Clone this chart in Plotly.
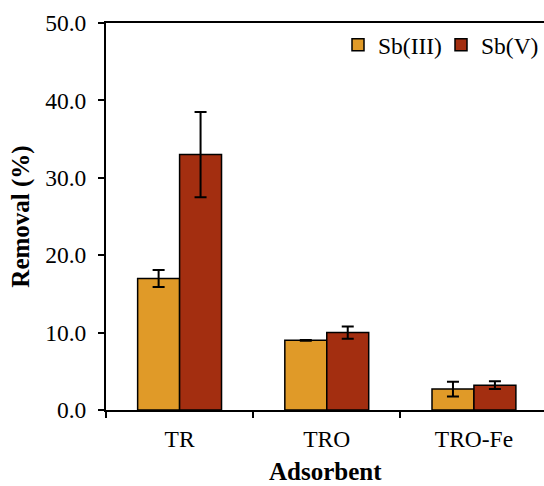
import plotly.graph_objects as go

adsorbents = ["TR", "TRO", "TRO-Fe"]
sb3_removal = [17.0, 9.0, 2.7]
sb3_error = [1.1, 0.05, 0.95]
sb5_removal = [33.0, 10.0, 3.2]
sb5_error = [5.5, 0.8, 0.5]
y_ticks = [0, 10, 20, 30, 40, 50]

FONT = "Liberation Serif, Times New Roman, serif"
TICK_SIZE = 23.5
TITLE_SIZE = 25

fig = go.Figure()
fig.add_trace(go.Bar(
    name="Sb(III)", x=adsorbents, y=sb3_removal,
    marker=dict(color="#E09A28", line=dict(color="black", width=1.5)),
    error_y=dict(type="data", array=sb3_error, visible=True,
                 color="black", thickness=2, width=6),
))
fig.add_trace(go.Bar(
    name="Sb(V)", x=adsorbents, y=sb5_removal,
    marker=dict(color="#A32E10", line=dict(color="black", width=1.5)),
    error_y=dict(type="data", array=sb5_error, visible=True,
                 color="black", thickness=2, width=6),
))

fig.update_layout(
    width=544, height=486,
    margin=dict(l=106, r=0, t=23, b=76),
    plot_bgcolor="white", paper_bgcolor="white",
    barmode="group", bargap=0.43, bargroupgap=0,
    font=dict(family=FONT, size=TICK_SIZE, color="black"),
    legend=dict(orientation="h", x=1.0, y=1.0, xanchor="right", yanchor="top",
                font=dict(family=FONT, size=TICK_SIZE), bgcolor="rgba(0,0,0,0)",
                itemwidth=30, entrywidth=58, tracegroupgap=0),
    showlegend=True,
)
# x-axis title placed as an annotation so it can sit at the bottom edge
fig.add_annotation(
    text="<b>Adsorbent</b>", xref="paper", yref="paper",
    x=0.5, y=-0.1964, xanchor="center", yanchor="bottom",
    showarrow=False, borderpad=0,
    font=dict(family=FONT, size=TITLE_SIZE, color="black"),
)
fig.update_xaxes(
    range=[-0.5, 2.476],
    showline=True, linecolor="black", linewidth=2, mirror=True,
    ticks="outside", tickson="boundaries", ticklen=6, tickwidth=2, tickcolor="black",
    tickfont=dict(family=FONT, size=TICK_SIZE), ticklabelstandoff=7,
    showgrid=False, automargin=False,
)
fig.update_yaxes(
    range=[0, 50], tickvals=y_ticks, tickformat=".1f",
    showline=True, linecolor="black", linewidth=2, mirror=False,
    ticks="outside", ticklen=6, tickwidth=2, tickcolor="black",
    tickfont=dict(family=FONT, size=TICK_SIZE), ticklabelstandoff=7,
    title=dict(text="<b>Removal (%)</b>", font=dict(family=FONT, size=TITLE_SIZE), standoff=8),
    showgrid=False, zeroline=False,
)

fig.write_html("out.html")
